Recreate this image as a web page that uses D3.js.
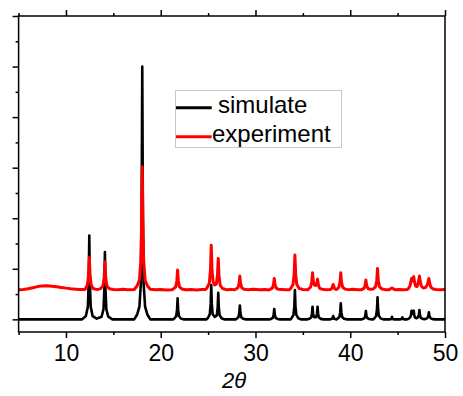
<!DOCTYPE html>
<html>
<head>
<meta charset="utf-8">
<script src="https://cdn.jsdelivr.net/npm/d3@7"></script>
<style>
  html, body { margin: 0; padding: 0; background: #fff; }
  svg { display: block; font-family: Arial, "Liberation Sans", sans-serif; }
  .axis path.domain { display: none; }
  .axis line { stroke: #000; stroke-width: 1.5; }
  .axis text { font-size: 23px; fill: #000; }
</style>
</head>
<body>
<svg id="chart" width="463" height="396"></svg>
<script>
// ─── Data (2θ, intensity) ───────────────────────────────────────────────────
const simulate = [
  [5,0],[11.7,0],[12.1,66],[12.31,249],[12.40,747],[12.46,1660],[12.52,747],[12.61,249],[12.81,66],[13.25,15],
  [13.76,53],[13.96,200],[14.05,600],[14.11,1330],[14.17,600],[14.26,200],[14.46,53],[14.9,0],
  [17.2,0],[17.5,90],[17.75,250],[17.9,700],[17.98,2000],[18.05,5000],[18.12,2000],[18.2,700],[18.35,250],[18.6,90],[18.9,0],
  [21.3,0],[21.43,17],[21.63,62],[21.72,187],[21.78,415],[21.84,187],[21.93,62],[22.13,17],[22.4,0],
  [24.8,0],[24.98,27],[25.18,102],[25.27,306],[25.33,680],[25.39,306],[25.48,102],[25.7,50],
  [25.92,79],[26.01,236],[26.07,525],[26.13,236],[26.22,79],[26.42,21],[26.7,0],
  [27.9,0],[28.0,11],[28.2,41],[28.29,124],[28.35,275],[28.41,124],[28.5,41],[28.7,11],[29.0,0],
  [31.5,0],[31.63,8],[31.83,31],[31.92,92],[31.98,205],[32.04,92],[32.13,31],[32.33,8],[32.6,0],
  [33.7,0],[33.81,23],[34.01,87],[34.10,261],[34.16,580],[34.22,261],[34.31,87],[34.51,23],[34.8,0],
  [35.5,0],[35.67,10],[35.87,38],[35.96,112],[36.02,250],[36.08,112],[36.17,45],[36.28,40],[36.40,45],
  [36.49,112],[36.55,250],[36.61,112],[36.70,38],[36.90,10],[37.2,0],
  [37.9,0],[38.1,10],[38.2,65],[38.3,10],[38.5,0],
  [38.55,0],[38.65,13],[38.85,47],[38.94,142],[39.0,316],[39.06,142],[39.15,47],[39.35,13],[39.6,0],
  [41.2,0],[41.3,7],[41.5,25],[41.59,74],[41.65,165],[41.71,74],[41.8,25],[42.0,7],[42.3,0],
  [42.4,0],[42.53,17],[42.73,65],[42.82,196],[42.88,435],[42.94,196],[43.03,65],[43.23,17],[43.5,0],
  [44.2,0],[44.32,8],[44.4,50],[44.48,8],[44.6,0],
  [45.3,0],[45.42,6],[45.5,40],[45.58,6],[45.7,0],
  [46.0,0],[46.15,10],[46.33,40],[46.41,80],[46.47,170],[46.53,110],[46.6,110],[46.65,170],[46.7,170],
  [46.76,80],[46.85,30],[47.0,25],[47.15,45],[47.24,85],[47.3,185],[47.36,85],[47.45,30],[47.65,8],
  [47.9,5],[48.1,20],[48.24,62],[48.3,140],[48.36,62],[48.5,20],[48.7,5],[49.0,0],[50,0]
];

const experiment = [
  [5,584],[5.5,592],[6,606],[6.5,626],[7,648],[7.5,662],[8,664],[8.5,656],[9,646],[9.5,632],
  [10,618],[10.5,604],[11,596],[11.5,590],[12.0,590],
  [12.06,611],[12.26,681],[12.38,873],[12.46,1225],[12.54,873],[12.66,681],[12.86,611],[13.3,588],
  [13.66,607],[13.91,668],[14.03,834],[14.11,1138],[14.19,834],[14.31,668],[14.56,607],[15,592],
  [15.5,584],[16,594],[16.5,586],[17.2,590],
  [17.5,660],[17.75,780],[17.9,1150],[17.98,1900],[18.05,3016],[18.12,1900],[18.2,1150],[18.35,780],[18.6,660],[18.9,595],
  [19.5,584],[20,592],[20.6,583],[21.2,588],
  [21.33,601],[21.58,643],[21.70,760],[21.78,974],[21.86,760],[21.98,643],[22.23,601],[22.6,585],
  [23.2,592],[23.8,583],[24.3,591],[24.7,590],
  [24.88,620],[25.13,717],[25.25,982],[25.33,1468],[25.41,982],[25.53,740],[25.7,680],
  [25.87,700],[25.99,880],[26.07,1205],[26.15,864],[26.27,678],[26.52,610],[26.9,588],
  [27.4,593],[27.8,586],
  [27.9,596],[28.15,626],[28.27,707],[28.35,856],[28.43,707],[28.55,626],[28.8,596],[29.2,588],
  [29.8,594],[30.4,584],[31.0,591],[31.4,583],
  [31.53,594],[31.78,619],[31.90,686],[31.98,810],[32.06,686],[32.18,619],[32.43,594],[32.8,590],
  [33.2,584],[33.6,588],
  [33.71,612],[33.96,688],[34.08,894],[34.16,1271],[34.24,894],[34.36,688],[34.61,612],[35.0,590],
  [35.5,586],[35.6,600],[35.82,640],[35.94,750],[36.02,921],[36.1,760],[36.22,680],[36.33,670],
  [36.47,690],[36.55,796],[36.63,690],[36.75,617],[37.0,597],[37.4,588],
  [37.9,590],[38.05,610],[38.2,690],[38.35,610],[38.5,592],
  [38.6,596],[38.8,635],[38.92,736],[39.0,921],[39.08,736],[39.2,635],[39.45,598],[39.8,588],
  [40.3,594],[40.8,584],[41.2,588],
  [41.45,614],[41.57,671],[41.65,777],[41.73,671],[41.85,614],[42.1,593],
  [42.4,600],[42.68,648],[42.8,775],[42.88,1008],[42.96,775],[43.08,648],[43.33,602],[43.7,588],
  [44.1,588],[44.4,620],[44.7,588],[45.2,592],[45.6,584],
  [46.0,590],[46.15,610],[46.3,660],[46.4,740],[46.47,810],[46.55,760],[46.62,790],[46.7,845],
  [46.78,740],[46.9,660],[47.05,650],[47.15,700],[47.23,780],[47.3,856],[47.38,760],[47.5,660],
  [47.7,620],[47.95,630],[48.1,670],[48.22,740],[48.3,810],[48.38,720],[48.5,640],[48.75,600],
  [49.1,590],[49.5,586],[50,590]
];

const xMajor = [10, 20, 30, 40, 50];
const xMinor = [5, 15, 25, 35, 45];
const yMajor = [0, 1000, 2000, 3000, 4000, 5000, 6000];
const yMinor = [500, 1500, 2500, 3500, 4500, 5500];
const seriesNames = ['simulate', 'experiment'];
const seriesColors = ['#000000', '#ff0000'];

// ─── Layout ─────────────────────────────────────────────────────────────────
const svg = d3.select('#chart');
const pLeft = 18.6, pRight = 445, pTop = 16, pBottom = 332;

const x = d3.scaleLinear().domain([5, 50]).range([pLeft, pRight]);
const y = d3.scaleLinear().domain([-250, 6000]).range([pBottom, pTop]);

svg.append('defs').append('clipPath').attr('id', 'plot-clip')
  .append('rect').attr('x', pLeft).attr('y', pTop).attr('width', pRight - pLeft).attr('height', pBottom - pTop);

// Axes (ticks outward)
const bx = svg.append('g').attr('class', 'axis').attr('transform', `translate(0,${pBottom})`);
bx.call(d3.axisBottom(x).tickValues(xMajor).tickSize(6).tickSizeOuter(0).tickFormat(d3.format('d')));
bx.selectAll('text').attr('dy', null).attr('y', 29);
svg.append('g').attr('class', 'axis').attr('transform', `translate(0,${pBottom})`)
  .call(d3.axisBottom(x).tickValues(xMinor).tickSize(3).tickSizeOuter(0).tickFormat(''));

svg.append('g').attr('class', 'axis').attr('transform', `translate(0,${pTop})`)
  .call(d3.axisTop(x).tickValues(xMajor).tickSize(6).tickSizeOuter(0).tickFormat(''));
svg.append('g').attr('class', 'axis').attr('transform', `translate(0,${pTop})`)
  .call(d3.axisTop(x).tickValues(xMinor).tickSize(3).tickSizeOuter(0).tickFormat(''));

svg.append('g').attr('class', 'axis').attr('transform', `translate(${pLeft},0)`)
  .call(d3.axisLeft(y).tickValues(yMajor).tickSize(6).tickSizeOuter(0).tickFormat(''));
svg.append('g').attr('class', 'axis').attr('transform', `translate(${pLeft},0)`)
  .call(d3.axisLeft(y).tickValues(yMinor).tickSize(3).tickSizeOuter(0).tickFormat(''));

// Lines
const line = d3.line().x(d => x(d[0])).y(d => y(d[1]));
const plot = svg.append('g').attr('clip-path', 'url(#plot-clip)');
plot.append('path').datum(simulate)
  .attr('fill', 'none').attr('stroke', seriesColors[0]).attr('stroke-width', 2.6)
  .attr('stroke-linejoin', 'round').attr('d', line);
plot.append('path').datum(experiment)
  .attr('fill', 'none').attr('stroke', seriesColors[1]).attr('stroke-width', 3)
  .attr('stroke-linejoin', 'round').attr('d', line);

// Frame
svg.append('rect')
  .attr('x', pLeft).attr('y', pTop).attr('width', pRight - pLeft).attr('height', pBottom - pTop)
  .attr('fill', 'none').attr('stroke', '#000').attr('stroke-width', 1.5);

// Axis title
svg.append('text')
  .attr('x', 234).attr('y', 388).attr('text-anchor', 'middle')
  .attr('font-size', 22).attr('font-style', 'italic')
  .text('2θ');

// Legend
const legend = svg.append('g');
legend.append('rect')
  .attr('x', 175.5).attr('y', 90.5).attr('width', 166).attr('height', 57)
  .attr('fill', '#fff').attr('stroke', '#c8c8c8').attr('stroke-width', 1);
const legY = [107.7, 136.7];
const textX = [218, 212];
seriesNames.forEach((name, i) => {
  legend.append('line')
    .attr('x1', 176).attr('x2', 211.7).attr('y1', legY[i]).attr('y2', legY[i])
    .attr('stroke', seriesColors[i]).attr('stroke-width', 3);
  legend.append('text')
    .attr('x', textX[i]).attr('y', legY[i] + 5).attr('font-size', 24).attr('fill', '#000')
    .text(name);
});
</script>
</body>
</html>
